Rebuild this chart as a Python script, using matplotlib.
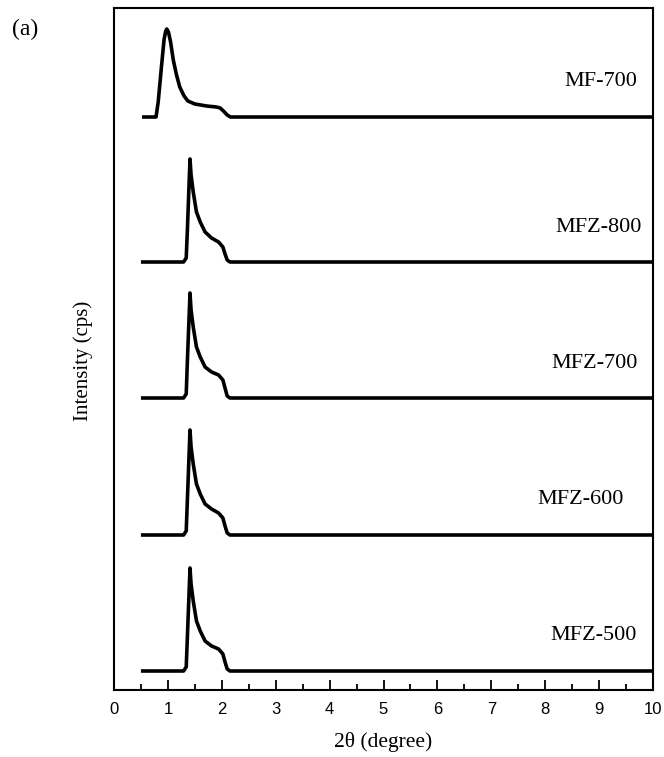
import matplotlib
matplotlib.use("Agg")
import matplotlib.pyplot as plt
from matplotlib.ticker import MultipleLocator

# ---- data ----
samples = ["MF-700", "MFZ-800", "MFZ-700", "MFZ-600", "MFZ-500"]
offsets = [573, 428, 292, 155, 19]

mf700_x = [0.52, 0.78, 0.82, 0.88, 0.93, 0.96, 0.98, 1.01, 1.05, 1.10, 1.16, 1.22, 1.30,
           1.37, 1.50, 1.72, 1.90, 1.97, 2.03, 2.10, 2.16, 10.0]
mf700_y = [0, 0, 15, 50, 78, 86, 88, 85, 75, 57, 42, 30, 21,
           16, 13, 11, 10, 9, 6, 2, 0, 0]

mfz_x = [0.50, 1.29, 1.34, 1.36, 1.41, 1.43, 1.47, 1.53, 1.60, 1.69, 1.81,
         1.94, 2.02, 2.06, 2.10, 2.15, 10.0]
mfz800_y = [0, 0, 4, 30, 103, 87, 70, 50, 40, 30, 24, 20, 15, 8, 2, 0, 0]
mfz700_y = [0, 0, 4, 35, 105, 88, 71, 51, 41, 31, 26, 23, 18, 10, 2, 0, 0]
mfz600_y = [0, 0, 4, 33, 105, 88, 71, 51, 41, 31, 26, 22, 17, 9, 2, 0, 0]
mfz500_y = [0, 0, 4, 32, 103, 87, 70, 50, 40, 30, 25, 22, 17, 9, 2, 0, 0]

series_x = [mf700_x, mfz_x, mfz_x, mfz_x, mfz_x]
series_y = [mf700_y, mfz800_y, mfz700_y, mfz600_y, mfz500_y]

label_x = [9.70, 9.80, 9.72, 9.45, 9.70]
label_dy = 35

xticks = list(range(0, 11))

# ---- figure ----
fig = plt.figure(figsize=(6.64, 7.57), dpi=100)
ax = fig.add_axes([114/664, 1 - 690/757, (653 - 114)/664, (690 - 8)/757])

for xs, ys, off in zip(series_x, series_y, offsets):
    ax.plot(xs, [v + off for v in ys], color="black", lw=2.6,
            solid_joinstyle="round", solid_capstyle="butt")

for name, lx, off in zip(samples, label_x, offsets):
    ax.text(lx, off + label_dy, name, ha="right", va="center",
            fontsize=16, family="Liberation Serif")

ax.set_xlim(0, 10)
ax.set_ylim(0, 682)
ax.set_xticks(xticks)
ax.xaxis.set_minor_locator(MultipleLocator(0.5))
ax.set_yticks([])
ax.tick_params(axis="x", which="major", direction="in", length=7, width=1.3,
               pad=9, labelsize=12)
ax.tick_params(axis="x", which="minor", direction="in", length=4, width=1.3)
for lab in ax.get_xticklabels():
    lab.set_family("Liberation Sans")
for s in ax.spines.values():
    s.set_linewidth(1.5)

ax.set_xlabel("2θ (degree)", fontsize=15.5, family="Liberation Serif")
ax.xaxis.set_label_coords(0.5, -(742 - 690) / 682)
ax.set_ylabel("Intensity (cps)", fontsize=15, family="Liberation Serif")
ax.yaxis.set_label_coords((83 - 114) / 539, (690 - 361) / 682)
ax.yaxis.label.set_va("center")
ax.xaxis.label.set_va("center")

fig.text(12/664, 1 - 29/757, "(a)", fontsize=17, family="Liberation Serif",
         va="center", ha="left")

fig.savefig("out.png", dpi=100)
